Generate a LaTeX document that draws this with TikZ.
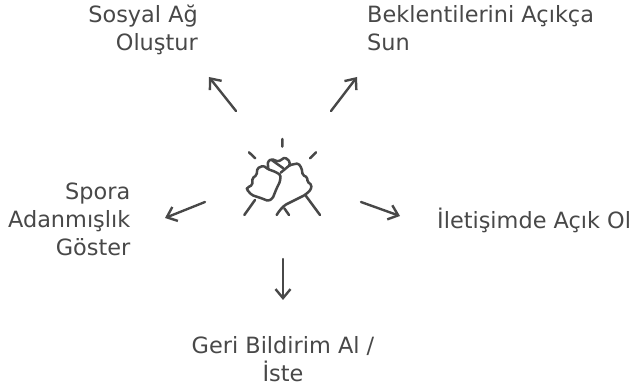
\documentclass[tikz,border=0pt]{standalone}
\usepackage{fontspec}
\setmainfont{DejaVu Sans}
\usetikzlibrary{arrows.meta}
\definecolor{ink}{HTML}{484848}
\tikzset{
  lbl/.style={inner sep=0pt,text=ink,font=\fontsize{22.4}{28}\selectfont,execute at begin node={\setlength{\baselineskip}{28pt}}},
  arr/.style={draw=ink,line width=2.4pt,line cap=round,line join=round,->,>={Straight Barb[length=9pt,width=15pt,line width=2.4pt]}},
  ico/.style={draw=ink,line width=2.5pt,line cap=round,line join=round}
}
\begin{document}
\begin{tikzpicture}[x=1pt,y=-1pt]
\useasboundingbox (0,0) rectangle (633,387);
\node[lbl,anchor=base east,align=right] (a) at (198,51) {Sosyal Ağ\\Oluştur};
\node[lbl,anchor=base west,align=left] (b) at (367,51) {Beklentilerini Açıkça\\Sun};
\node[lbl,anchor=base east,align=right] (c) at (130.5,256) {Spora\\Adanmışlık\\Göster};
\node[lbl,anchor=base west] (d) at (437,229) {İletişimde Açık Ol};
\node[lbl,anchor=base,align=center] (e) at (283,381.5) {Geri Bildirim Al /\\İste};
\coordinate (a1) at (236,111); \coordinate (a2) at (209,77);
\coordinate (b1) at (331,111); \coordinate (b2) at (357,77);
\coordinate (c1) at (205,202); \coordinate (c2) at (165,218);
\coordinate (d1) at (361,202); \coordinate (d2) at (400,216);
\coordinate (e1) at (283,259); \coordinate (e2) at (283,300);
\draw[arr] (a1)--(a2);
\draw[arr] (b1)--(b2);
\draw[arr] (c1)--(c2);
\draw[arr] (d1)--(d2);
\draw[arr] (e1)--(e2);
\begin{scope}[shift={(220,120)},x=0.3333pt,y=-0.3333pt]
\draw[ico] (187,57)--(187,80) (87,97)--(106,115) (288,97)--(270,115);
\draw[ico,rounded corners=1.5pt] (112,145)--(130,137)--(145,148)--(165,155)--(182,165)--(180,185)--(170,205)--(158,235)--(145,243)--(125,235)--(95,225)--(80,208)--(82,203)--(97,195)--(97,175)--(110,165)--cycle;
\draw[ico] (105,240)--(73,285);
\draw[ico,rounded corners=1.5pt] (145,148)--(143,125)--(155,117)--(175,125)--(195,112)--(210,125)--(208,135);
\draw[ico] (155,120)--(190,145);
\draw[ico,rounded corners=1.5pt] (182,158)--(210,135)--(235,130)--(245,145)--(248,165)--(262,172)--(262,185)--(275,195)--(272,210)--(255,225)--(195,255)--(180,270)--(170,285);
\draw[ico] (258,228)--(300,285);
\draw[ico] (193,265)--(207,285);
\end{scope}
\end{tikzpicture}
\end{document}
